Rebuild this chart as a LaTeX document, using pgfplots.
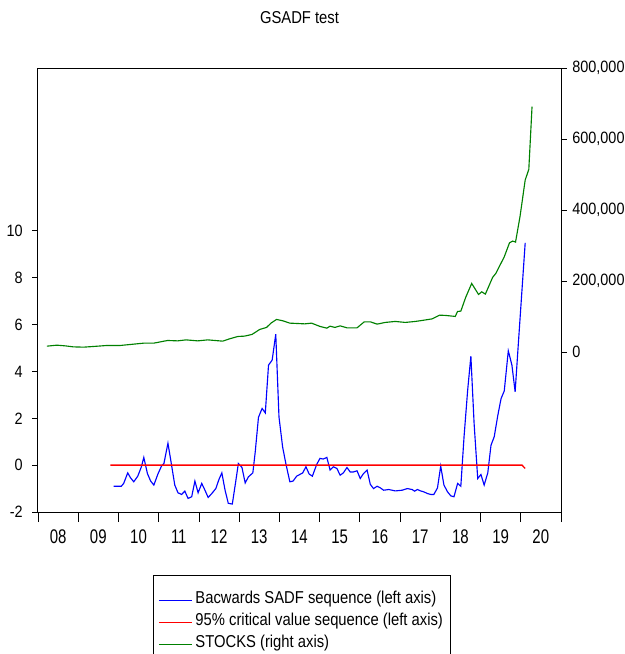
\documentclass[border=0pt]{standalone}
\usepackage{pgfplots}
\pgfplotsset{compat=1.18}
\usepackage{pgfplotstable}
\usepackage{fontspec}
\setmainfont{Liberation Sans}[FakeStretch=0.86]
\newfontfamily\xf{Liberation Sans}[FakeStretch=0.76]
\newfontfamily\yf{Liberation Sans}[FakeStretch=0.88]
\newcommand\ff{\fontsize{12.9pt}{15pt}\selectfont}
\newcommand\xff{\xf\fontsize{14.8pt}{17pt}\selectfont}
\newcommand\yff{\yf\fontsize{12.3pt}{15pt}\selectfont}
\definecolor{evgreen}{RGB}{0,128,0}

\pgfplotstableread{
x y
2009.88 -0.90
2010.07 -0.90
2010.13 -0.78
2010.23 -0.33
2010.30 -0.54
2010.38 -0.71
2010.48 -0.47
2010.57 -0.07
2010.63 0.33
2010.72 -0.36
2010.80 -0.68
2010.88 -0.85
2010.98 -0.38
2011.07 -0.04
2011.13 0.07
2011.23 0.93
2011.30 0.21
2011.40 -0.85
2011.48 -1.18
2011.57 -1.25
2011.65 -1.11
2011.73 -1.42
2011.82 -1.35
2011.90 -0.68
2011.98 -1.18
2012.07 -0.78
2012.15 -1.07
2012.23 -1.38
2012.32 -1.21
2012.42 -1.00
2012.50 -0.60
2012.57 -0.33
2012.65 -1.07
2012.73 -1.63
2012.83 -1.66
2012.92 -0.64
2012.98 0.07
2013.07 -0.10
2013.15 -0.76
2013.23 -0.50
2013.34 -0.33
2013.40 0.57
2013.48 2.04
2013.57 2.42
2013.65 2.23
2013.73 4.27
2013.82 4.48
2013.91 5.59
2013.99 2.06
2014.08 0.78
2014.16 0.07
2014.26 -0.71
2014.34 -0.68
2014.43 -0.47
2014.58 -0.33
2014.66 -0.07
2014.74 -0.38
2014.82 -0.47
2014.93 0.04
2015.01 0.29
2015.09 0.26
2015.18 0.33
2015.26 -0.21
2015.34 -0.07
2015.43 -0.14
2015.51 -0.43
2015.59 -0.33
2015.68 -0.10
2015.76 -0.29
2015.84 -0.29
2015.93 -0.24
2016.01 -0.57
2016.09 -0.36
2016.18 -0.21
2016.26 -0.82
2016.34 -1.00
2016.43 -0.90
2016.51 -0.97
2016.59 -1.07
2016.72 -1.04
2016.88 -1.10
2017.05 -1.07
2017.18 -1.00
2017.30 -1.04
2017.36 -1.11
2017.43 -1.04
2017.51 -1.10
2017.59 -1.14
2017.68 -1.21
2017.76 -1.25
2017.84 -1.25
2017.93 -0.97
2018.01 -0.04
2018.09 -0.85
2018.18 -1.14
2018.26 -1.31
2018.34 -1.35
2018.43 -0.78
2018.51 -0.90
2018.59 1.21
2018.68 3.20
2018.76 4.65
2018.84 1.78
2018.93 -0.57
2019.01 -0.40
2019.09 -0.85
2019.18 -0.33
2019.26 0.85
2019.34 1.21
2019.43 2.13
2019.51 2.84
2019.59 3.17
2019.69 4.88
2019.78 4.27
2019.86 3.13
2019.94 5.19
2020.03 7.47
2020.11 9.49
}\bsadf

\pgfplotstableread{
x y
2009.80 0.00
2020.03 0.00
2020.11 -0.14
}\cv

\pgfplotstableread{
x y
2008.22 16900
2008.47 19700
2008.68 17700
2008.88 14900
2009.13 14100
2009.38 16000
2009.72 18900
2010.05 18900
2010.30 21700
2010.63 25400
2010.88 25400
2011.22 32900
2011.47 31800
2011.68 34600
2011.97 31800
2012.22 34600
2012.59 31000
2012.76 37500
2012.97 44200
2013.13 45100
2013.32 49900
2013.51 63900
2013.68 69600
2013.80 82500
2013.93 92100
2014.09 88200
2014.26 81700
2014.43 80800
2014.63 79700
2014.80 81700
2015.01 72400
2015.18 67600
2015.26 73200
2015.38 69600
2015.51 74100
2015.68 68500
2015.93 68500
2016.11 85400
2016.26 85400
2016.43 78900
2016.63 83700
2016.88 86500
2017.13 83700
2017.38 86500
2017.55 89300
2017.80 93800
2017.98 104200
2018.13 103400
2018.37 100600
2018.43 114600
2018.51 115500
2018.63 154000
2018.78 193500
2018.95 162500
2019.03 169900
2019.12 163400
2019.30 210400
2019.38 221700
2019.59 268500
2019.72 307900
2019.80 312700
2019.87 309900
2019.98 381100
2020.11 484500
2020.20 514700
2020.28 691100
}\stocks

\begin{document}
\begin{tikzpicture}
\useasboundingbox (0,0) rectangle (468.75pt,-490.5pt);
\node[font=\ff] at (224.6pt,-13.5pt) {GSADF test};
\begin{axis}[
  at={(28.5pt,-384pt)}, anchor=south west,
  scale only axis, width=392.25pt, height=333pt,
  xmin=2008, xmax=2021,
  ymin=-2, ymax=16.95,
  axis line style={line width=0.75pt},
  tick align=outside,
  xtick={2008,...,2021}, xticklabels={},
  minor x tick num=3,
  xtick pos=bottom, ytick pos=left,
  major tick length=7.5pt, minor tick length=3.75pt,
  ytick={-2,0,2,4,6,8,10},
  yticklabels={{\yff -2},{\yff 0},{\yff 2},{\yff 4},{\yff 6},{\yff 8},{\yff 10}},
  ytick style={/pgfplots/major tick length=4.5pt},
  every tick/.style={black, line width=0.6pt},
  extra x ticks={2008.5,2009.5,...,2020.5},
  extra x tick labels={{\xff 08},{\xff 09},{\xff 10},{\xff 11},{\xff 12},{\xff 13},{\xff 14},{\xff 15},{\xff 16},{\xff 17},{\xff 18},{\xff 19},{\xff 20}},
  extra x tick style={major tick length=0pt},
  yticklabel style={xshift=-0.5pt},
  xticklabel style={yshift=-10pt},
  legend style={at={(axis description cs:0.2205,-0.1419)}, anchor=north west,
    draw=black, line width=0.6pt, font=\ff, inner xsep=3.5pt, inner ysep=11.5pt,
    row sep=2.5pt, column sep=0.5pt,
    nodes={inner sep=2pt, text height=0.75em, text depth=0.25em}},
  legend cell align=left,
  legend image code/.code={\draw[#1, line width=0.8pt] (0pt,0pt) -- (24.5pt,0pt);},
]
\addplot[blue, line width=0.85pt, mark=none] table {\bsadf};
\addlegendentry{Bacwards SADF sequence (left axis)}
\addplot[red, line width=1pt, mark=none] table {\cv};
\addlegendentry{95\% critical value sequence (left axis)}
\addlegendimage{evgreen}
\addlegendentry{STOCKS (right axis)}
\end{axis}
\begin{axis}[
  at={(28.5pt,-384pt)}, anchor=south west,
  scale only axis, width=392.25pt, height=333pt,
  xmin=2008, xmax=2021,
  ymin=-450000, ymax=800000,
  axis y line*=right, axis x line=none,
  axis line style={line width=0.75pt},
  tick align=outside,
  major tick length=4.5pt,
  every tick/.style={black, line width=0.6pt},
  scaled y ticks=false,
  ytick={0,200000,400000,600000,800000},
  yticklabels={{\yff 0},{\yff 200,000},{\yff 400,000},{\yff 600,000},{\yff 800,000}},
  yticklabel style={xshift=0.5pt},
]
\addplot[evgreen, line width=0.85pt, mark=none] table {\stocks};
\end{axis}
\end{tikzpicture}
\end{document}
